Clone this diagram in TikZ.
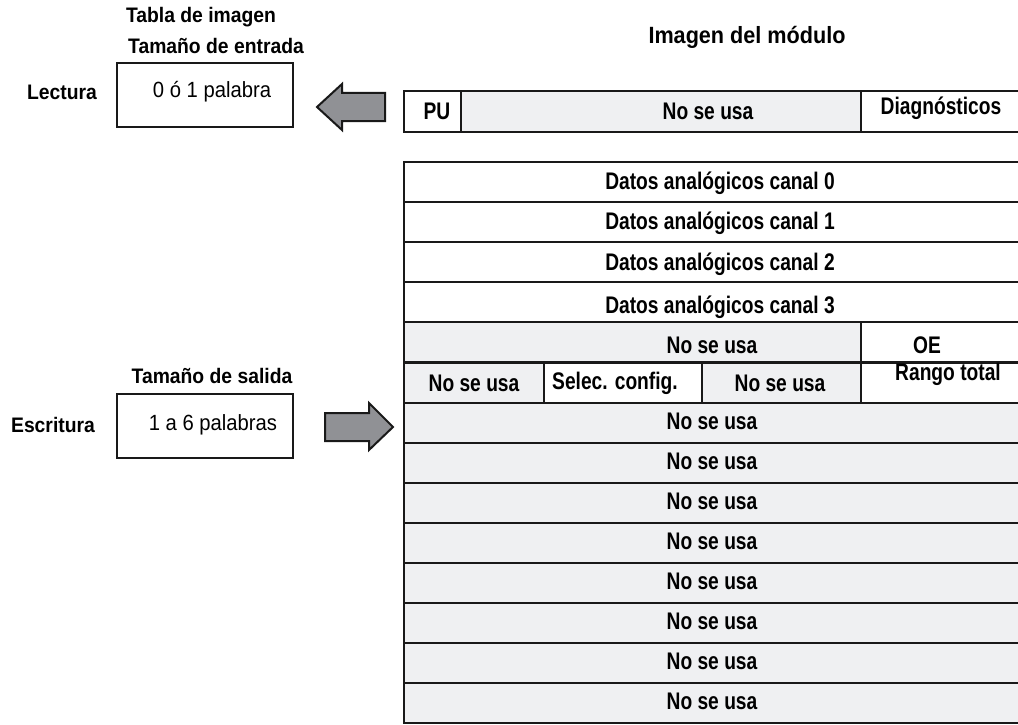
\documentclass[tikz,border=0pt]{standalone}
\usepackage{fontspec}
\setmainfont{Liberation Sans}[FakeStretch=0.92]
\newfontfamily\tabfont{Liberation Sans}[FakeStretch=0.8]
\definecolor{unused}{HTML}{EFF0F2}
\definecolor{arrowgray}{HTML}{909195}
\tikzset{
  cell/.style={draw=black!90, line width=2.1pt},
  lbl/.style={font=\tabfont\bfseries\fontsize{24}{26}\selectfont, inner sep=0pt},
  head/.style={font=\bfseries\fontsize{21}{23}\selectfont, inner sep=0pt},
  size/.style={font=\fontsize{22}{24}\selectfont, inner sep=0pt},
  bigarrow/.style={draw=black!90, line width=2pt, fill=arrowgray, line join=miter},
}
\begin{document}
\begin{tikzpicture}[x=1pt,y=-1pt]
    \useasboundingbox (0,0) rectangle (1018,725);
    % image table (left)
    \node[head] (tabla) at (201,17) {Tabla de imagen};
    \node[head] (entrada) at (216,46) {Tamaño de entrada};
    \node[head] (lectura) at (62,92) {Lectura};
    \draw[cell] (117,63) rectangle (293,127);
    \node[size] (rdsize) at (212,92) {0 ó 1 palabra};
    \node[head] (salida) at (212,376) {Tamaño de salida};
    \node[head] (escritura) at (53,425) {Escritura};
    \draw[cell] (117,394) rectangle (293,458);
    \node[size] (wrsize) at (213,425) {1 a 6 palabras};
    % arrows
    \draw[bigarrow] (317,107) -- (342,84) -- (342,93) -- (385,93) -- (385,121) -- (342,121) -- (342,130) -- cycle;
    \draw[bigarrow] (393,427) -- (369,403) -- (369,413) -- (325,413) -- (325,441) -- (369,441) -- (369,450) -- cycle;
    % module image
    \node[head, font=\bfseries\fontsize{23.5}{25}\selectfont] (modulo) at (747,37) {Imagen del módulo};
    \filldraw[cell, fill=white] (404,91) rectangle (461,132);
    \filldraw[cell, fill=unused] (461,91) rectangle (861,132);
    \filldraw[cell, fill=white] (861,91) rectangle (1022,132);
    \node[lbl] (pu) at (437,111) {PU};
    \node[lbl] (pununused) at (708,111) {No se usa};
    \node[lbl] (diag) at (941,108) {Diagnósticos};
    % analog data words
    \foreach \i in {0,...,3}
        \filldraw[cell, fill=white] (404,{162+40.1*\i}) rectangle (1022,{202.1+40.1*\i});
    \foreach \i in {0,...,2}
        \node[lbl] (canal\i) at (720,{183+40.5*\i}) {Datos analógicos canal \i};
    \node[lbl] (canal3) at (720,307) {Datos analógicos canal 3};
    % status and config words
    \filldraw[cell, fill=unused] (404,322.4) rectangle (861,362.5);
    \filldraw[cell, fill=white] (861,322.4) rectangle (1022,362.5);
    \node[lbl] (oeunused) at (712,345) {No se usa};
    \node[lbl] (oe) at (927,345) {OE};
    \filldraw[cell, fill=unused] (404,362.5) rectangle (544,402.6);
    \filldraw[cell, fill=white] (544,362.5) rectangle (702,402.6);
    \filldraw[cell, fill=unused] (702,362.5) rectangle (861,402.6);
    \filldraw[cell, fill=white] (861,362.5) rectangle (1022,402.6);
    \node[lbl] (cfgunuseda) at (474,383) {No se usa};
    \node[lbl] (selcfg) at (615,383) {Selec. config.};
    \node[lbl] (cfgunusedb) at (780,383) {No se usa};
    \node[lbl] (rango) at (948,374) {Rango total};
    % unused words
    \foreach \i in {0,...,7} {
        \filldraw[cell, fill=unused] (404,{402.6+40.1*\i}) rectangle (1022,{442.7+40.1*\i});
        \node[lbl] (nsu\i) at (712,{421+40.1*\i}) {No se usa};
    }
\end{tikzpicture}
\end{document}
